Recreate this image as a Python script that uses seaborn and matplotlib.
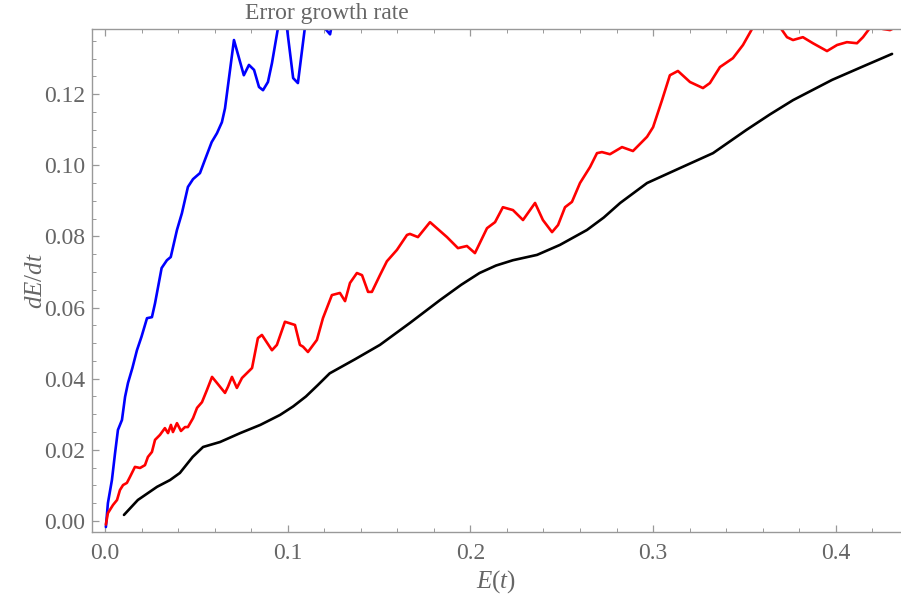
import numpy as np
import pandas as pd
import matplotlib
matplotlib.use("Agg")
import matplotlib.pyplot as plt
import seaborn as sns
from matplotlib.ticker import MultipleLocator, FormatStrFormatter

# blue curve (leaves the frame at the top)
blue_x = [0.0005, 0.0016, 0.0038, 0.0055, 0.0071, 0.0093, 0.011, 0.0126, 0.0150,
          0.0175, 0.020, 0.023, 0.0257, 0.0274, 0.031, 0.0339, 0.036, 0.0394, 0.0421,
          0.0454, 0.0482, 0.052, 0.0547, 0.0584, 0.0613, 0.064, 0.0657, 0.0706, 0.076,
          0.0788, 0.0816, 0.0843, 0.0865, 0.0892, 0.0914, 0.0947, 0.0970, 0.0996, 0.103,
          0.1056, 0.1095, 0.1130, 0.1204, 0.1232, 0.1280]
blue_y = [-0.0017, 0.005, 0.0115, 0.019, 0.0256, 0.0284, 0.0349, 0.0388, 0.0430,
          0.048, 0.0518, 0.057, 0.0573, 0.0612, 0.0711, 0.0733, 0.0742, 0.0818, 0.0865,
          0.0939, 0.0961, 0.0978, 0.1015, 0.1065, 0.109, 0.1121, 0.116, 0.1352, 0.1253,
          0.1282, 0.1268, 0.122, 0.1211, 0.1234, 0.1287, 0.1386, 0.1430, 0.1386, 0.1245,
          0.1231, 0.1390, 0.1450, 0.1385, 0.1368, 0.1500]

# red curve
red_x = [0.0005, 0.0016, 0.0044, 0.0066, 0.0082, 0.0099, 0.012, 0.0137, 0.0164, 0.0192,
         0.0219, 0.0235, 0.0257, 0.0274, 0.0301, 0.0328, 0.0345, 0.0361, 0.0372, 0.0394,
         0.0416, 0.0438, 0.0454, 0.0482, 0.0504, 0.0531, 0.0558, 0.0586, 0.0613, 0.0657,
         0.0673, 0.0695, 0.0722, 0.075, 0.0805, 0.0837, 0.0859, 0.0914, 0.0941, 0.0985,
         0.104, 0.1067, 0.1084, 0.1111, 0.116, 0.1193, 0.1242, 0.1286, 0.1314, 0.1341,
         0.1379, 0.1407, 0.144, 0.1461, 0.1505, 0.1543, 0.1598, 0.1653, 0.1669, 0.1713,
         0.1779, 0.1872, 0.1932, 0.1981, 0.2025, 0.2091, 0.2135, 0.2178, 0.2233, 0.2288,
         0.2354, 0.2397, 0.2447, 0.248, 0.2518, 0.2556, 0.26, 0.2655, 0.2693, 0.272,
         0.2764, 0.283, 0.289, 0.2967, 0.300, 0.3049, 0.3092, 0.3136, 0.3202, 0.3273,
         0.3311, 0.3366, 0.3437, 0.3492, 0.3547, 0.3620, 0.3695, 0.3733, 0.3766, 0.382,
         0.3875, 0.3952, 0.4007, 0.4061, 0.4116, 0.4149, 0.4187, 0.4220, 0.4258, 0.4297,
         0.4320]
red_y = [-0.001, 0.0022, 0.0045, 0.0059, 0.0087, 0.0101, 0.0107, 0.0124, 0.0152, 0.0149,
         0.0157, 0.018, 0.0194, 0.0228, 0.0242, 0.0261, 0.0247, 0.027, 0.025, 0.0275,
         0.0253, 0.0264, 0.0264, 0.0289, 0.0318, 0.0334, 0.0368, 0.0405, 0.0388, 0.036,
         0.0377, 0.0405, 0.0374, 0.0402, 0.043, 0.0514, 0.0523, 0.048, 0.0495, 0.056,
         0.0551, 0.0495, 0.049, 0.0475, 0.0509, 0.057, 0.0635, 0.0641, 0.0618, 0.0669,
         0.0697, 0.0691, 0.0644, 0.0644, 0.0691, 0.0730, 0.0762, 0.0804, 0.0807, 0.0798,
         0.084, 0.0798, 0.0767, 0.0773, 0.0753, 0.0823, 0.084, 0.0882, 0.0874, 0.0846,
         0.0894, 0.0846, 0.0812, 0.0832, 0.0882, 0.0897, 0.095, 0.0995, 0.1034, 0.1037,
         0.1031, 0.1051, 0.104, 0.108, 0.1107, 0.1183, 0.1253, 0.1265, 0.1234, 0.1217,
         0.1231, 0.1276, 0.1301, 0.1338, 0.1388, 0.1420, 0.1388, 0.136, 0.1352, 0.136,
         0.1343, 0.1321, 0.1338, 0.1346, 0.1343, 0.136, 0.1386, 0.1395, 0.1383, 0.1380,
         0.1386]

# black curve
black_x = [0.0104, 0.018, 0.0285, 0.0356, 0.041, 0.048, 0.0537, 0.063, 0.074, 0.085,
           0.0958, 0.1030, 0.11, 0.1165, 0.123, 0.1370, 0.1505, 0.1670, 0.1834, 0.1950,
           0.205, 0.2140, 0.2233, 0.2365, 0.249, 0.2638, 0.2730, 0.282, 0.2967, 0.3147,
           0.3328, 0.351, 0.3640, 0.3766, 0.398, 0.4150, 0.4308]
black_y = [0.0017, 0.0059, 0.0096, 0.0115, 0.0135, 0.018, 0.0208, 0.0222, 0.0247, 0.027,
           0.0298, 0.0322, 0.035, 0.0382, 0.0415, 0.0455, 0.0495, 0.0557, 0.0621, 0.0664,
           0.0697, 0.0718, 0.0733, 0.0748, 0.0776, 0.0818, 0.0853, 0.0894, 0.095, 0.0992,
           0.1034, 0.1099, 0.1143, 0.1183, 0.124, 0.1278, 0.1313]

df = pd.concat([
    pd.DataFrame({"E": blue_x, "rate": blue_y, "curve": "blue"}),
    pd.DataFrame({"E": red_x, "rate": red_y, "curve": "red"}),
    pd.DataFrame({"E": black_x, "rate": black_y, "curve": "black"}),
], ignore_index=True)

sns.set_style("ticks")
plt.rcParams["font.family"] = ["Liberation Serif", "DejaVu Serif"]
plt.rcParams["mathtext.fontset"] = "custom"
plt.rcParams["mathtext.it"] = "Liberation Serif:italic"
plt.rcParams["mathtext.rm"] = "Liberation Serif"

txt = "#666666"
frame = "#999999"

fig = plt.figure(figsize=(9.01, 6.02), dpi=100)
ax = fig.add_axes([92 / 901, 70 / 602, 809 / 901, 503 / 602])

sns.lineplot(data=df, x="E", y="rate", hue="curve", sort=False, estimator=None,
             palette={"blue": "#0000ff", "red": "#ff0000", "black": "#000000"},
             linewidth=1.9, legend=False, ax=ax)

ax.set_xlim(-0.0071, 0.4357)
ax.set_ylim(-0.0031, 0.1383)

ax.xaxis.set_major_locator(MultipleLocator(0.1))
ax.xaxis.set_minor_locator(MultipleLocator(0.02))
ax.yaxis.set_major_locator(MultipleLocator(0.02))
ax.yaxis.set_minor_locator(MultipleLocator(0.005))
ax.xaxis.set_major_formatter(FormatStrFormatter("%.1f"))
ax.yaxis.set_major_formatter(FormatStrFormatter("%.2f"))

ax.tick_params(which="both", direction="in", top=True, right=False, color=frame,
               labelcolor=txt, labelsize=17)
ax.tick_params(which="major", length=5, width=0.9)
ax.tick_params(which="minor", length=3, width=0.7)
ax.tick_params(axis="x", pad=8)
ax.tick_params(axis="y", pad=5)

for side in ["left", "bottom", "top"]:
    ax.spines[side].set_color(frame)
    ax.spines[side].set_linewidth(1.0)
ax.spines["right"].set_visible(False)

ax.set_xlabel("$E(t)$", color=txt, fontsize=18, labelpad=3)
ax.set_ylabel("$dE/dt$", color=txt, fontsize=18, labelpad=-2)
fig.text(327 / 901, 1 - 13 / 602, "Error growth rate", color=txt, fontsize=17,
         ha="center", va="center")

fig.savefig("out.png", dpi=100)
